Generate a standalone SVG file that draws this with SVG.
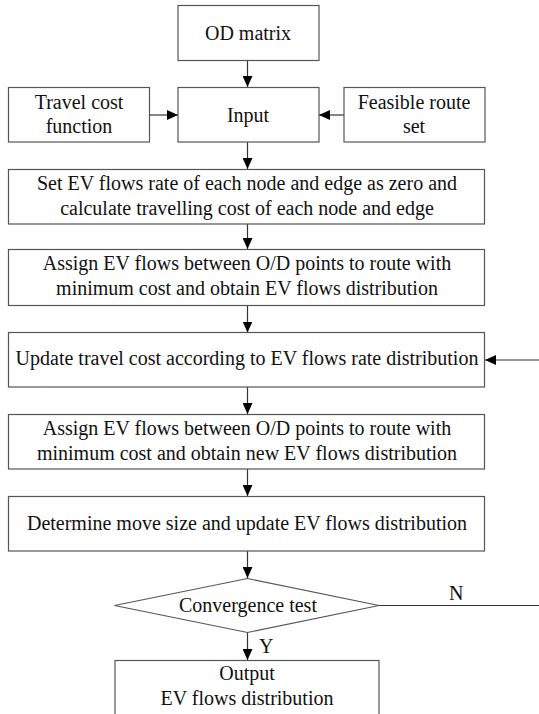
<svg xmlns="http://www.w3.org/2000/svg" width="539" height="714" viewBox="0 0 539 714">
  <style>
    .box { fill: #ffffff; stroke: #555555; stroke-width: 1.2; }
    .lbl { font-family: "Liberation Serif", "Times New Roman", serif; font-size: 20px; fill: #111111; text-anchor: middle; }
    .tag { font-family: "Liberation Serif", "Times New Roman", serif; font-size: 20px; fill: #111111; }
    .wire { fill: none; stroke: #333333; stroke-width: 1.2; }
  </style>
  <defs>
    <marker id="arrow" markerUnits="userSpaceOnUse" markerWidth="12" markerHeight="10" viewBox="0 0 12 10" refX="11" refY="5" orient="auto">
      <path d="M0,0 L11,5 L0,10 Z" fill="#000000"/>
    </marker>
  </defs>
  <rect width="539" height="714" fill="#ffffff"/>

  <g id="connectors">
    <line class="wire" x1="247.5" y1="61" x2="247.5" y2="87" marker-end="url(#arrow)"/>
    <line class="wire" x1="150" y1="115" x2="178" y2="115" marker-end="url(#arrow)"/>
    <line class="wire" x1="344" y1="115" x2="319" y2="115" marker-end="url(#arrow)"/>
    <line class="wire" x1="247.5" y1="142" x2="247.5" y2="169" marker-end="url(#arrow)"/>
    <line class="wire" x1="247.5" y1="224" x2="247.5" y2="249" marker-end="url(#arrow)"/>
    <line class="wire" x1="247.5" y1="306" x2="247.5" y2="332.5" marker-end="url(#arrow)"/>
    <line class="wire" x1="539" y1="360" x2="485" y2="360" marker-end="url(#arrow)"/>
    <line class="wire" x1="247.5" y1="387" x2="247.5" y2="414" marker-end="url(#arrow)"/>
    <line class="wire" x1="247.5" y1="469" x2="247.5" y2="496" marker-end="url(#arrow)"/>
    <line class="wire" x1="247.5" y1="551" x2="247.5" y2="578" marker-end="url(#arrow)"/>
    <line class="wire" x1="379" y1="605.5" x2="539" y2="605.5"/>
    <line class="wire" x1="247.5" y1="632.5" x2="247.5" y2="660" marker-end="url(#arrow)"/>
    <text class="tag" x="449" y="600">N</text>
    <text class="tag" x="259" y="653">Y</text>
  </g>

  <g id="od-matrix">
    <rect class="box" x="178" y="5.5" width="141" height="55"/>
    <text class="lbl" x="248" y="40">OD matrix</text>
  </g>

  <g id="travel-cost">
    <rect class="box" x="8.5" y="87.5" width="141" height="54.5"/>
    <text class="lbl" x="79" y="109">Travel cost</text>
    <text class="lbl" x="79" y="133">function</text>
  </g>

  <g id="input">
    <rect class="box" x="178" y="87.5" width="141" height="54.5"/>
    <text class="lbl" x="248" y="121.5">Input</text>
  </g>

  <g id="feasible-route">
    <rect class="box" x="344" y="87.5" width="141" height="54.5"/>
    <text class="lbl" x="414" y="109">Feasible route</text>
    <text class="lbl" x="414" y="133">set</text>
  </g>

  <g id="init-flows">
    <rect class="box" x="8.5" y="169.5" width="476" height="54.5"/>
    <text class="lbl" x="247" y="190">Set EV flows rate of each node and edge as zero and</text>
    <text class="lbl" x="247" y="215">calculate travelling cost of each node and edge</text>
  </g>

  <g id="assign-initial">
    <rect class="box" x="8.5" y="249.5" width="476" height="56"/>
    <text class="lbl" x="247" y="270">Assign EV flows between O/D points to route with</text>
    <text class="lbl" x="247" y="295">minimum cost and obtain EV flows distribution</text>
  </g>

  <g id="update-cost">
    <rect class="box" x="8.5" y="332.5" width="476" height="54.5"/>
    <text class="lbl" x="247" y="365">Update travel cost according to EV flows rate distribution</text>
  </g>

  <g id="assign-new">
    <rect class="box" x="8.5" y="414.5" width="476" height="54.5"/>
    <text class="lbl" x="247" y="435">Assign EV flows between O/D points to route with</text>
    <text class="lbl" x="247" y="460">minimum cost and obtain new EV flows distribution</text>
  </g>

  <g id="move-size">
    <rect class="box" x="8.5" y="496.5" width="476" height="54.5"/>
    <text class="lbl" x="247" y="530">Determine move size and update EV flows distribution</text>
  </g>

  <g id="convergence">
    <polygon class="box" points="247.5,578.5 379,605.5 247.5,632.5 114.5,605.5"/>
    <text class="lbl" x="248" y="611.5">Convergence test</text>
  </g>

  <g id="output">
    <rect class="box" x="115" y="660.5" width="264" height="70"/>
    <text class="lbl" x="247" y="680">Output</text>
    <text class="lbl" x="247" y="705">EV flows distribution</text>
  </g>
</svg>
